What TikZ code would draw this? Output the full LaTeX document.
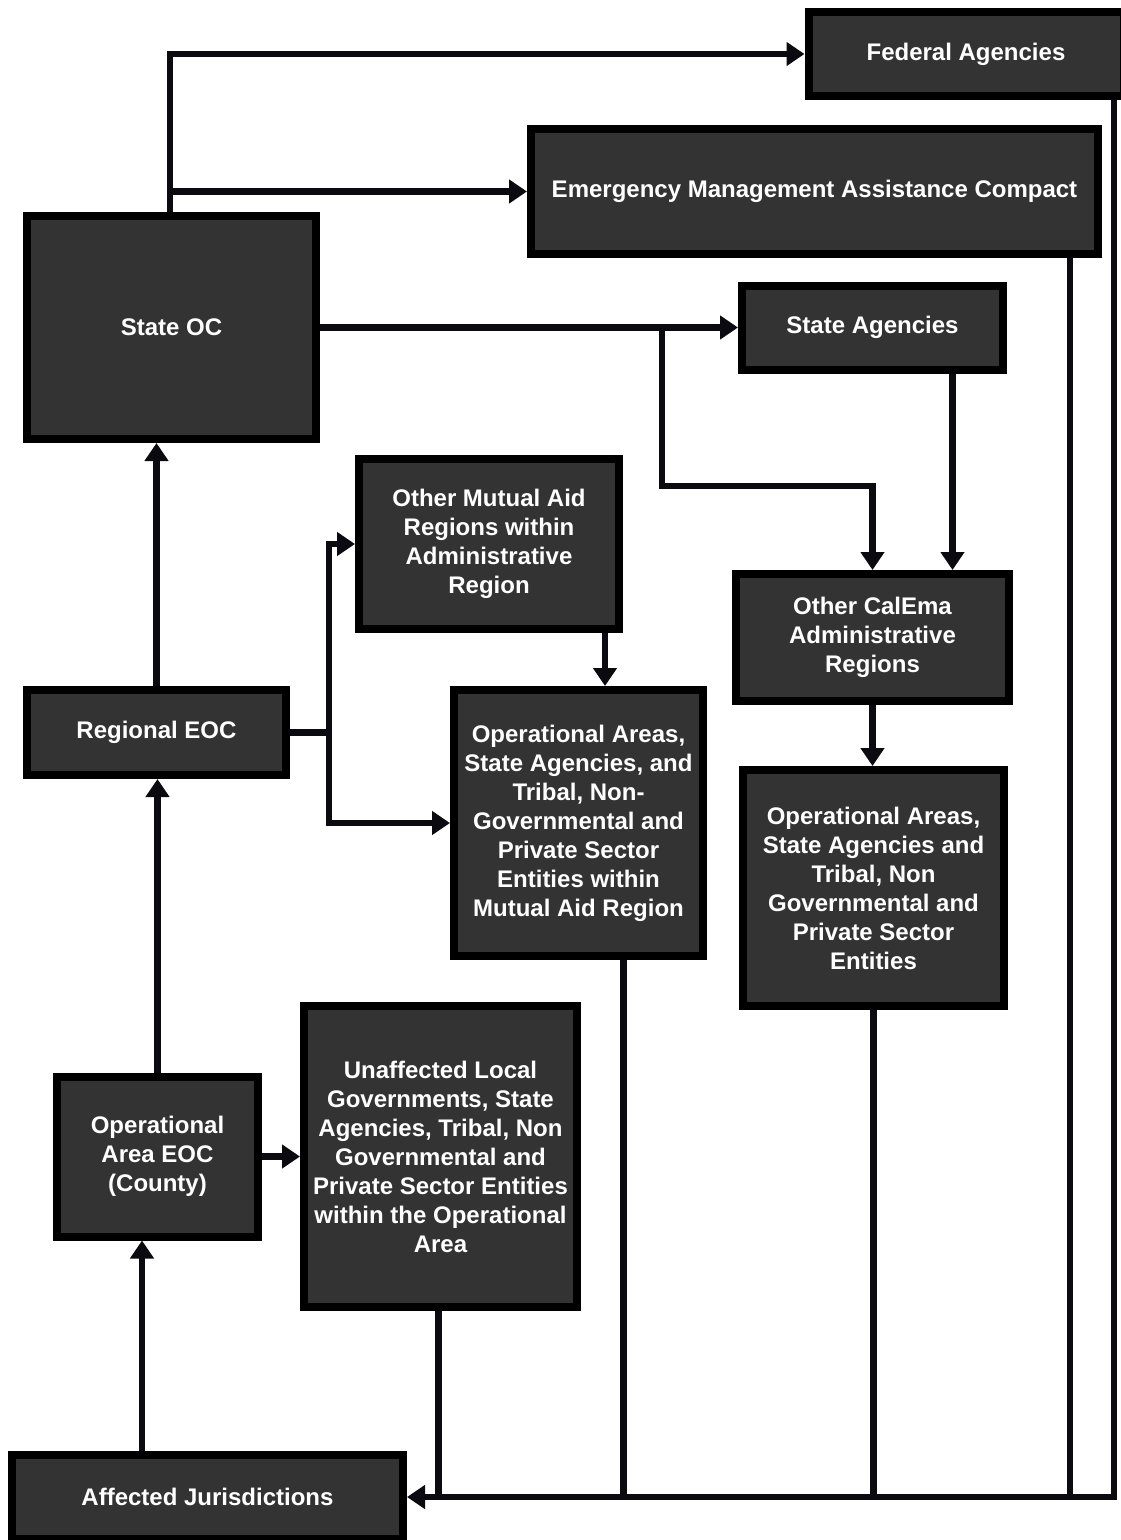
\documentclass[tikz,border=0pt]{standalone}
\usepackage{fontspec}
\setmainfont{Liberation Sans}
\usetikzlibrary{arrows.meta,calc}
\definecolor{boxfill}{HTML}{333333}
\definecolor{linek}{HTML}{0A0A10}
\tikzset{
  box/.style={draw=black, fill=boxfill, line width=8pt, outer sep=4pt, inner sep=0pt,
    text=white, align=center, font=\fontsize{24}{29}\selectfont\bfseries},
  conn/.style={draw=linek, line width=6.5pt, line join=miter},
  arr/.style={conn, -{Triangle[length=18pt,width=23pt]}}
}
\begin{document}
\begin{tikzpicture}[x=1pt,y=-1pt]
\useasboundingbox (0,0) rectangle (1120,1540);
\fill[white] (0,0) rectangle (1120,1540);
% boxes (min size = outer size - 8)
\node[box, minimum width=315pt, minimum height=84pt] (fed) at (966,54) {Federal Agencies};
\node[box, minimum width=567pt, minimum height=125pt] (emac) at (814.5,191.5) {Emergency Management Assistance Compact};
\node[box, minimum width=289pt, minimum height=223pt] (soc) at (171.5,327.5) {State OC};
\node[box, minimum width=261pt, minimum height=84pt] (sa) at (872.5,327.5) {State Agencies};
\node[box, minimum width=260pt, minimum height=170pt] (omar) at (489,544) {Other Mutual Aid\\Regions within\\Administrative\\Region};
\node[box, minimum width=273pt, minimum height=127pt] (cal) at (872.5,637.5) {Other CalEma\\Administrative\\Regions};
\node[box, minimum width=259pt, minimum height=85pt] (reoc) at (156.5,732.5) {Regional EOC};
\node[box, minimum width=249pt, minimum height=266pt] (oamr) at (578.5,823) {Operational Areas,\\State Agencies, and\\Tribal, Non-\\Governmental and\\Private Sector\\Entities within\\Mutual Aid Region};
\node[box, minimum width=261pt, minimum height=236pt] (oar) at (873.5,888) {Operational Areas,\\State Agencies and\\Tribal, Non\\Governmental and\\Private Sector\\Entities};
\node[box, minimum width=273pt, minimum height=301pt] (ula) at (440.5,1156.5) {Unaffected Local\\Governments, State\\Agencies, Tribal, Non\\Governmental and\\Private Sector Entities\\within the Operational\\Area};
\node[box, minimum width=201pt, minimum height=160pt] (oaeoc) at (157.5,1156.5) {Operational\\Area EOC\\(County)};
\node[box, minimum width=391pt, minimum height=84pt] (aj) at (207.5,1497) {Affected Jurisdictions};
% coordinates
\coordinate (top1) at ($(soc.north west)+(147,0)$);
\coordinate (jemac) at (top1 |- emac.west);
\coordinate (jsa) at (662,0 |- sa.west);
\coordinate (jsa2) at (662,486);
\coordinate (sadn) at ($(sa.south)+(80,0)$);
\coordinate (jre) at (329,0 |- reoc.east);
\coordinate (omdn) at ($(omar.south east)+(-18,0)$);
\coordinate (ajup) at ($(aj.north west)+(134,0)$);
\coordinate (bot) at (0,0 |- aj.east);
\coordinate (uldn) at ($(ula.south)+(-2,0)$);
\coordinate (oamdn) at ($(oamr.south)+(45,0)$);
\coordinate (emdn) at ($(emac.south east)+(-32,0)$);
\coordinate (fddn) at (1114,0 |- fed.south);
% connectors upward
\draw[arr] (top1) |- (fed.west);
\draw[arr] (jemac) -- (emac.west);
\draw[arr] (soc.east |- sa.west) -- (sa.west);
\draw[arr] (jsa) -- (jsa2) -| (cal.north);
\draw[arr] (sadn) -- (sadn |- cal.north);
\draw[arr] (reoc.north) -- (reoc.north |- soc.south);
\draw[conn] (reoc.east) -- (jre);
\draw[arr] (jre) |- (omar.west);
\draw[arr] (jre) |- (oamr.west);
\draw[arr] (omdn) -- (omdn |- oamr.north);
\draw[arr] (cal.south) -- (cal.south |- oar.north);
\draw[arr] (oaeoc.north) -- (oaeoc.north |- reoc.south);
\draw[arr] (oaeoc.east |- ula.west) -- (ula.west);
\draw[arr] (ajup) -- (ajup |- oaeoc.south);
% return lines
\draw[conn] (uldn) -- (uldn |- bot);
\draw[conn] (oamdn) -- (oamdn |- bot);
\draw[conn] (oar.south) -- (oar.south |- bot);
\draw[conn] (emdn) -- (emdn |- bot);
\draw[arr] (fddn) |- (aj.east);
\end{tikzpicture}
\end{document}
